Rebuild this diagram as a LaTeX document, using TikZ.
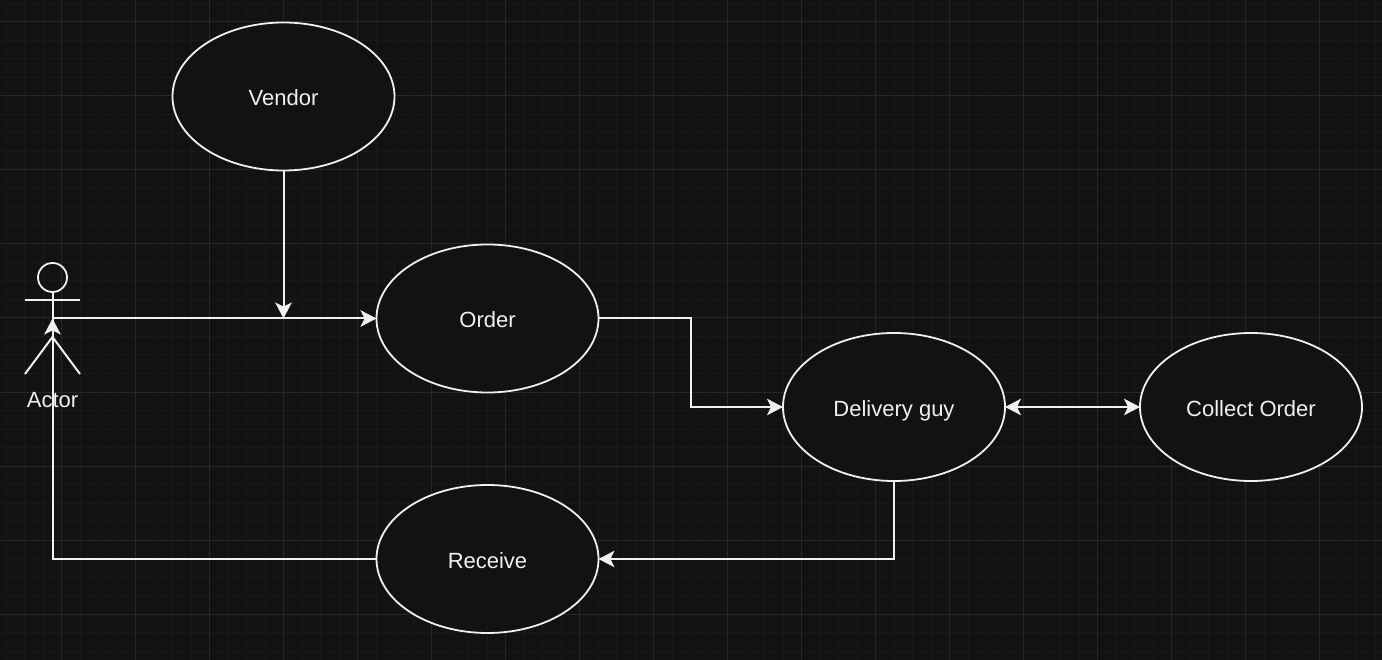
\documentclass[tikz,border=0pt]{standalone}
\usepackage{fontspec}
\setmainfont{Liberation Sans}
\usetikzlibrary{shapes.geometric}
\usetikzlibrary{arrows.meta}
\definecolor{canvasbg}{HTML}{121212}
\definecolor{gridminor}{HTML}{191919}
\definecolor{gridmajor}{HTML}{272727}
\definecolor{inkwhite}{HTML}{F0F0F0}
\tikzset{>={Stealth[length=16pt,width=16.5pt,inset=4pt]}}
\tikzset{
  usecase/.style={ellipse, draw=inkwhite, fill=canvasbg, line width=1.8pt, minimum width=222pt, minimum height=148pt, inner sep=0pt, outer sep=0pt, text=inkwhite, text height=19pt, text depth=0pt, font=\fontsize{22}{26}\selectfont},
  link/.style={draw=inkwhite, line width=2pt, ->},
  stick/.style={draw=inkwhite, line width=2pt}
}
\begin{document}
\begin{tikzpicture}[x=1pt, y=-1pt]
            \fill[canvasbg] (0, 0) rectangle (1382, 660);
            \useasboundingbox (0, 0) rectangle (1382, 660);
            \foreach \i in {0, ..., 74} \draw[gridminor, line width=1pt] (6 + 18.5*\i, 0) -- (6 + 18.5*\i, 660);
            \foreach \j in {0, ..., 35} \draw[gridminor, line width=1pt] (0, 3.5 + 18.5*\j) -- (1382, 3.5 + 18.5*\j);
            \foreach \i in {0, ..., 18} \draw[gridmajor, line width=1pt] (61.5 + 74*\i, 0) -- (61.5 + 74*\i, 660);
            \draw[gridmajor, line width=1pt] (0, 22) -- (1382, 22);
            \foreach \j in {1, ..., 8} \draw[gridmajor, line width=1pt] (0, 22 + 74*\j) -- (1382, 22 + 74*\j);
            \node[usecase] (vendor) at (283.5, 96.5) {Vendor};
            \node[usecase] (order) at (487.5, 318.5) {Order};
            \node[usecase] (delivery) at (894, 407) {Delivery guy};
            \node[usecase] (collect) at (1251, 407) {Collect Order};
            \node[usecase] (receive) at (487.5, 559) {Receive};
            \node[circle, draw=inkwhite, line width=1.8pt, minimum size=29pt, inner sep=0pt, outer sep=0pt] (head) at (52.5, 277.5) {};
            \coordinate (hip) at (52.5, 337);
            \coordinate (waist) at (52.5, 318.5);
            \coordinate (merge) at (283.5, 318.5);
            \draw[stick] (head) -- (hip);
            \draw[stick] (25, 300) -- (80, 300);
            \draw[stick] (25, 374) -- (hip) -- (80, 374);
            \node[text=inkwhite, font=\fontsize{22}{26}\selectfont] (actor) at (52.5, 400) {Actor};
            \draw[link] (vendor) -- (merge);
            \draw[link] (waist) -- (order);
            \draw[link] (order.east) -- (690.5, 318.5) -- (690.5, 407) -- (delivery.west);
            \draw[link, <->] (delivery) -- (collect);
            \draw[link] (delivery.south) -- (894, 559) -- (receive.east);
            \draw[link] (receive.west) -- (52.5, 559) -- (waist);
\end{tikzpicture}
\end{document}
